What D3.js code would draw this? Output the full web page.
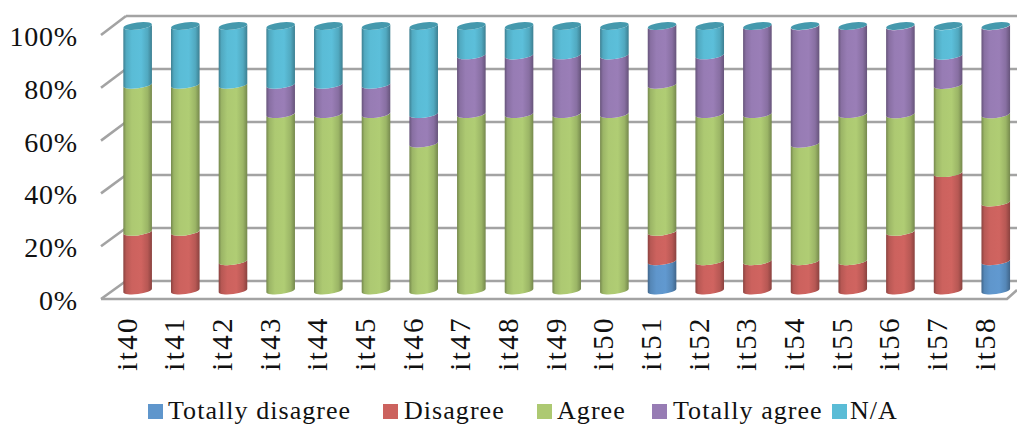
<!DOCTYPE html>
<html><head><meta charset="utf-8">
<script src="https://cdn.jsdelivr.net/npm/d3@7"></script>
<style>html,body{margin:0;padding:0;background:#fff}svg{display:block}text{font-family:"Liberation Serif",serif;fill:#111}</style>
</head><body><svg id="c" width="1017" height="425"></svg>
<script>
const categories=["it40","it41","it42","it43","it44","it45","it46","it47","it48","it49","it50","it51","it52","it53","it54","it55","it56","it57","it58"];
const seriesNames=["Totally disagree","Disagree","Agree","Totally agree","N/A"];
const totallyDisagree=[0,0,0,0,0,0,0,0,0,0,0,11.1,0,0,0,0,0,0,11.1];
const disagree=[22.2,22.2,11.1,0,0,0,0,0,0,0,0,11.1,11.1,11.1,11.1,11.1,22.2,44.4,22.2];
const agree=[55.6,55.6,66.7,66.7,66.7,66.7,55.6,66.7,66.7,66.7,66.7,55.6,55.6,55.6,44.4,55.6,44.4,33.3,33.3];
const totallyAgree=[0,0,0,11.1,11.1,11.1,11.1,22.2,22.2,22.2,22.2,22.2,22.2,33.3,44.4,33.3,33.3,11.1,33.3];
const notApplicable=[22.2,22.2,22.2,22.2,22.2,22.2,33.3,11.1,11.1,11.1,11.1,0,11.1,0,0,0,0,11.1,0];
const colors=["#5f96cc","#cc625e","#adc972","#977cb4","#5abcd6"];
const capColors=["#4a7aa8","#a84f4c","#8ba35a","#7b6394","#4599ad"];
const yTicks=[0,20,40,60,80,100];
const seriesVals=[totallyDisagree,disagree,agree,totallyAgree,notApplicable];
const rows=categories.map((c,i)=>{const o={cat:c};seriesNames.forEach((s,j)=>o[s]=seriesVals[j][i]);return o;});
const stacked=d3.stack().keys(seriesNames)(rows);

const svg=d3.select("#c");
const grey="#a3a3a3";
const yFront=d3.scaleLinear().domain([0,100]).range([299,35]);
const yBack=d3.scaleLinear().domain([0,100]).range([281,16]);
const yBar=d3.scaleLinear().domain([0,100]).range([290.5,26]);
const xBand=d3.scaleBand().domain(categories).range([113.8,1019.6]).paddingInner(0.4).paddingOuter(0.2);

// gradients
const defs=svg.append("defs");
colors.forEach((c,i)=>{
  const g=defs.append("linearGradient").attr("id","g"+i);
  const dk=d3.rgb(c).darker(1.1), md=d3.rgb(c).darker(0.3), lt=d3.rgb(c).brighter(0.05);
  [[0,dk],[0.1,md],[0.3,c],[0.62,lt],[0.85,md],[1,dk]].forEach(([o,k])=>g.append("stop").attr("offset",o).attr("stop-color",k));
});

// walls
const gw=svg.append("g").attr("stroke",grey).attr("stroke-width",2.6).attr("fill","none");
gw.selectAll("line.back").data(yTicks).join("line").attr("class","back").attr("x1",126).attr("x2",1017).attr("y1",d=>yBack(d)).attr("y2",d=>yBack(d));
gw.selectAll("line.side").data(yTicks).join("line").attr("class","side").attr("x1",101).attr("x2",126).attr("y1",d=>yFront(d)).attr("y2",d=>yBack(d));
gw.append("path").attr("d",`M101,${yFront(0)}H1007L1017,${yFront(0)-9}`);

// bars
const bw=xBand.bandwidth(), rx=bw/2, ry=3.6, rot=-7;
const dy=rx*Math.sin(rot*Math.PI/180);
function seg(x,y0,y1){ // y0 bottom centre, y1 top centre
  const xl=x,xr=x+bw;
  return `M${xl},${y1-dy}A${rx},${ry} ${rot} 0 0 ${xr},${y1+dy}`+
         `L${xr},${y0+dy}A${rx},${ry} ${rot} 0 1 ${xl},${y0-dy}Z`;
}
stacked.forEach((s,i)=>{
  svg.append("g").selectAll("path").data(s.filter(d=>d[1]-d[0]>0)).join("path")
    .attr("d",d=>seg(xBand(d.data.cat),yBar(d[0]),yBar(d[1])))
    .attr("fill",`url(#g${i})`);
});
// top caps
svg.append("g").selectAll("ellipse").data(rows.map((r,i)=>{
  let top=0;seriesVals.forEach((v,j)=>{if(v[i]>0)top=j;});
  return {cat:r.cat,top,total:100};
})).join("ellipse")
  .attr("transform",d=>`translate(${xBand(d.cat)+rx},${yBar(d.total)}) rotate(${rot})`)
  .attr("rx",rx).attr("ry",ry).attr("fill",d=>capColors[4]);

// y axis
const ay=svg.append("g").attr("transform","translate(78,1.5)").call(d3.axisLeft(yFront).tickValues(yTicks).tickSize(0).tickPadding(0).tickFormat(d=>d+"%"));
ay.select(".domain").remove();
ay.selectAll("text").attr("font-size",28).attr("dy","0.32em").style("letter-spacing","0.8px");

// x axis
const ax=svg.append("g").call(d3.axisBottom(xBand).tickSize(0).tickFormat(d=>d));
ax.select(".domain").remove();
ax.selectAll(".tick").attr("transform",d=>`translate(${xBand(d)+4},316)`);
ax.selectAll("text").attr("font-size",29).attr("transform","rotate(-90)").attr("text-anchor","end").attr("x",0).attr("y",0).attr("dy","0.32em").style("letter-spacing","2.4px");

// legend
const lx=[148,383,537,652,832], tx=[168,404,557,673,850];
const lg=svg.append("g").selectAll("g").data(seriesNames).join("g");
lg.append("rect").attr("x",(d,i)=>lx[i]).attr("y",404).attr("width",15).attr("height",15).attr("fill",(d,i)=>colors[i]);
lg.append("text").attr("x",(d,i)=>tx[i]).attr("y",419).attr("font-size",26).style("letter-spacing","1.05px").text(d=>d);
</script></body></html>
